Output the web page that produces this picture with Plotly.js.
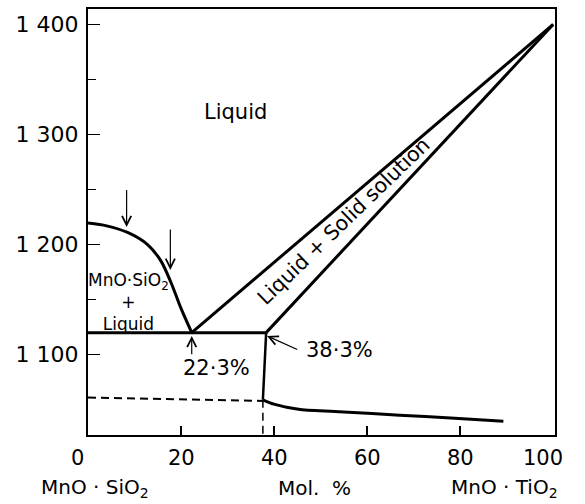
<!DOCTYPE html>
<html>
<head>
<meta charset="utf-8">
<script src="https://cdn.plot.ly/plotly-3.0.1.min.js"></script>
<style>
  html, body { margin: 0; padding: 0; background: #fff; }
  #chart { width: 585px; height: 504px; }
</style>
</head>
<body>
<div id="chart"></div>
<script>
// MnO·SiO2 – MnO·TiO2 phase diagram (temperature in °C vs. mol. % MnO·TiO2)

// Liquidus of the MnO·SiO2 primary field
const siLiqX = [0, 4, 8.5, 12.8, 15.7, 17.8, 20, 22.3];
const siLiqT = [1219.5, 1217, 1211, 1200, 1185, 1166, 1142, 1120];

// Eutectic / peritectic horizontal
const eutX = [0, 38.3];
const eutT = [1120, 1120];

// Liquidus and solidus of the solid-solution field
const liqX = [22.3, 100];
const liqT = [1120, 1400];
const solX = [38.3, 100];
const solT = [1120, 1400];

// Vertical boundary at the solid-solution limit
const limX = [38.3, 37.6];
const limT = [1120, 1059];

// Lower solid-state boundary
const lowX = [37.6, 40, 43, 46, 55, 67, 78, 89.3];
const lowT = [1059, 1055, 1052, 1050, 1048, 1045, 1042.5, 1039.5];

// Dashed (uncertain) boundaries
const dashHX = [0, 37.6];
const dashHT = [1061, 1058];
const dashVX = [37.6, 37.6];
const dashVT = [1059, 1027];

// Axis ticks
const xTickVals = [0, 20, 40, 60, 80, 100];
const xTickText = ['0', '20', '40', '60', '80', '100'];
const yTickVals = [1100, 1200, 1300, 1400];
const yTickText = ['1 100', '1 200', '1 300', '1 400'];
const yMinorVals = [1150, 1250, 1350];

const FONT = 'DejaVu Sans, sans-serif';
const solid = { color: '#000', width: 3 };
const dashed = { color: '#000', width: 2, dash: '8px,5px' };

function seg(x, y, line) {
  return { x: x, y: y, type: 'scatter', mode: 'lines', line: line, hoverinfo: 'skip', showlegend: false };
}

const traces = [
  seg(siLiqX, siLiqT, { color: '#000', width: 3, shape: 'spline', smoothing: 0.8 }),
  seg(eutX, eutT, solid),
  seg(liqX, liqT, solid),
  seg(solX, solT, solid),
  seg(limX, limT, { color: '#000', width: 2.5 }),
  seg(lowX, lowT, { color: '#000', width: 3, shape: 'spline', smoothing: 0.6 }),
  seg(dashHX, dashHT, dashed),
  seg(dashVX, dashVT, { color: '#000', width: 1.5, dash: '8px,5px' })
];

const annotations = [];

// x tick labels (outer ones pulled slightly inward)
xTickVals.forEach(function (v, i) {
  let shift = 0;
  if (v === 0) shift = -11;
  if (v === 100) shift = -10;
  annotations.push({
    x: v, xref: 'x', y: 0, yref: 'paper', yshift: -23, xshift: shift,
    text: xTickText[i], showarrow: false, xanchor: 'center', yanchor: 'middle',
    font: { family: FONT, size: 21, color: '#000' }
  });
});

// End-member and axis labels
const bottomLabels = [
  { x: 1.5, text: 'MnO · SiO<sub>2</sub>' },
  { x: 48.6, text: 'Mol.  %' },
  { x: 89.5, text: 'MnO · TiO<sub>2</sub>' }
];
bottomLabels.forEach(function (b) {
  annotations.push({
    x: b.x, xref: 'x', y: 0, yref: 'paper', yshift: -53,
    text: b.text, showarrow: false, xanchor: 'center', yanchor: 'middle',
    font: { family: FONT, size: 20, color: '#000' }
  });
});

// Phase-field labels
annotations.push(
  { x: 31.7, y: 1320, text: 'Liquid', showarrow: false,
    font: { family: FONT, size: 21, color: '#000' } },
  { x: 55, y: 1221, text: 'Liquid + Solid solution', showarrow: false, textangle: -44,
    font: { family: FONT, size: 20.5, color: '#000' } },
  { x: 8.7, y: 1148, text: 'MnO·SiO<sub>2</sub><br>+<br>Liquid', showarrow: false,
    font: { family: FONT, size: 17, color: '#000' } },
  { x: 27.6, y: 1088, text: '22·3%', showarrow: false,
    font: { family: FONT, size: 21, color: '#000' } },
  { x: 54, y: 1104.5, text: '38·3%', showarrow: false,
    font: { family: FONT, size: 21, color: '#000' } }
);

// Pointer arrows
const arrows = [
  { x: 8.3, y: 1216, ax: 8.3, ay: 1251 },
  { x: 17.7, y: 1177, ax: 17.7, ay: 1215 },
  { x: 22.3, y: 1117, ax: 22.3, ay: 1099 },
  { x: 38.5, y: 1117, ax: 45.3, ay: 1104 }
];
arrows.forEach(function (a) {
  annotations.push({
    x: a.x, y: a.y, ax: a.ax, ay: a.ay, axref: 'x', ayref: 'y', xref: 'x', yref: 'y',
    text: '', showarrow: true, arrowhead: 5, arrowsize: 1.5, arrowwidth: 1.2, arrowcolor: '#000'
  });
});

const layout = {
  width: 585,
  height: 504,
  margin: { l: 88, r: 30, t: 9, b: 69 },
  paper_bgcolor: '#fff',
  plot_bgcolor: '#fff',
  showlegend: false,
  font: { family: FONT, color: '#000' },
  xaxis: {
    range: [0, 100.4],
    showline: true, linecolor: '#000', linewidth: 2, mirror: true,
    showgrid: false, zeroline: false,
    ticks: 'inside', tickvals: [20, 40, 60, 80], ticklen: 9, tickwidth: 1.5, tickcolor: '#000',
    showticklabels: false
  },
  yaxis: {
    range: [1027, 1414],
    showline: true, linecolor: '#000', linewidth: 2, mirror: true,
    showgrid: false, zeroline: false,
    ticks: 'inside', tickvals: yTickVals, ticktext: yTickText,
    ticklen: 12, tickwidth: 1.5, tickcolor: '#000',
    ticklabelstandoff: 3,
    tickfont: { family: FONT, size: 22, color: '#000' },
    minor: { tickvals: yMinorVals, ticks: 'inside', ticklen: 8, tickwidth: 1.5, tickcolor: '#000', showgrid: false }
  },
  annotations: annotations
};

Plotly.newPlot('chart', traces, layout, { displayModeBar: false, staticPlot: true });
</script>
</body>
</html>
